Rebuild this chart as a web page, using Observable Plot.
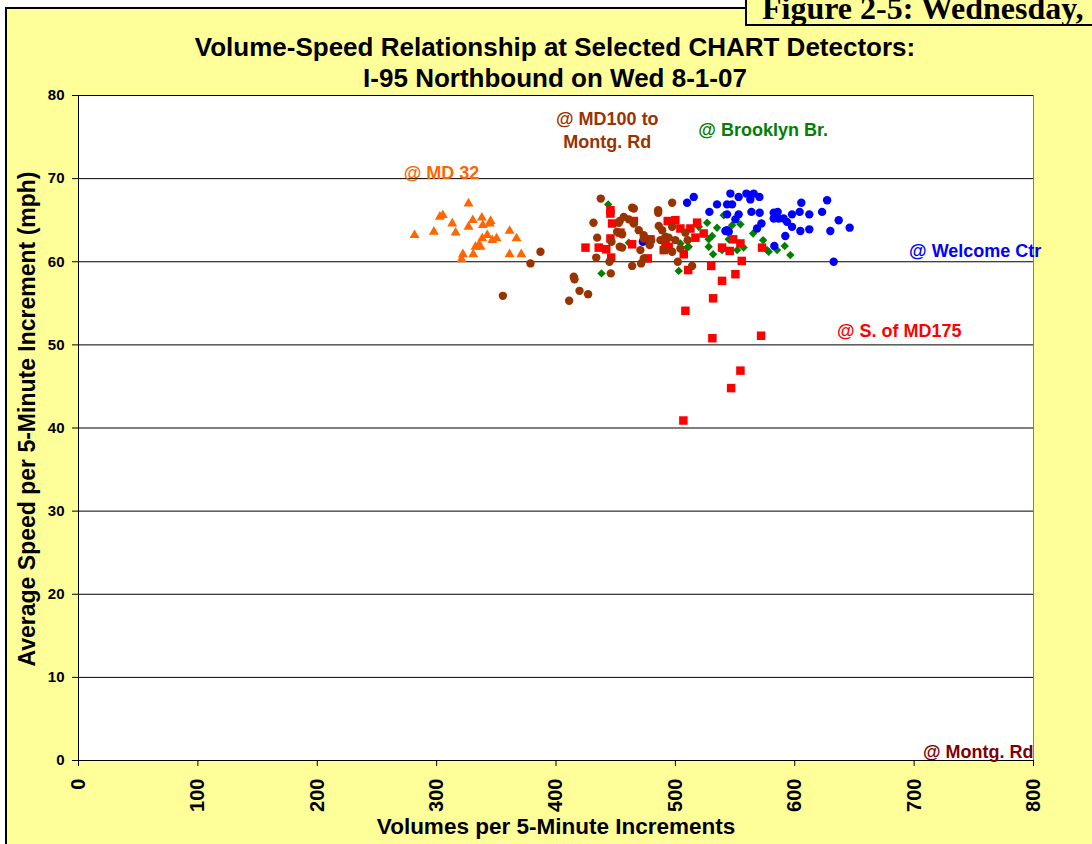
<!DOCTYPE html>
<html>
<head>
<meta charset="utf-8">
<script src="https://cdn.jsdelivr.net/npm/d3@7"></script>
<script src="https://cdn.jsdelivr.net/npm/@observablehq/plot@0.6"></script>
<style>
  body { margin: 0; }
  #page { position: relative; width: 1092px; height: 844px; overflow: hidden; background: #fff; font-family: "Liberation Sans", Arial, sans-serif; }
  #panel { position: absolute; left: 5px; top: 7px; width: 1200px; height: 1000px; background: #FFFF99; border: 2px solid #000; }
  #figbox { position: absolute; left: 745px; top: -10px; width: 500px; height: 32px; background: #FFFF99; border: 2px solid #000; }
  #figtext { position: absolute; left: 762px; top: -8px; white-space: nowrap; font-family: "Liberation Serif", "Times New Roman", serif; font-weight: bold; font-size: 32px; line-height: 32px; }
  #title { position: absolute; left: 0; top: 32px; width: 1110px; text-align: center; font-weight: bold; font-size: 26px; line-height: 31px; }
  #chart { position: absolute; left: 0; top: 0; }
</style>
</head>
<body>
<div id="page">
  <div id="panel"></div>
  <div id="figbox"></div>
  <div id="figtext">Figure 2-5: Wednesday,</div>
  <div id="chart"></div>
  <div id="title">Volume-Speed Relationship at Selected CHART Detectors:<br>I-95 Northbound on Wed 8-1-07</div>
</div>
<script>
// ---- Data (volume per 5 min, average speed mph) ----
const xTicks = [0, 100, 200, 300, 400, 500, 600, 700, 800];
const yTicks = [0, 10, 20, 30, 40, 50, 60, 70, 80];

// @ MD 32 (orange triangles)
const md32Vol = [281.5, 297.7, 302.7, 305.2, 313.1, 315.9, 326.7, 326.7, 330.3, 337.9, 338.7, 345.2, 344.6, 342.4, 338.2, 335.4, 332.6, 346.6, 350.2, 361.1, 366.9, 322.0, 320.9, 330.7, 361.1, 370.9, 336.8];
const md32Spd = [63.2, 63.6, 65.4, 65.6, 64.6, 63.5, 67.0, 64.2, 65.0, 65.3, 64.4, 64.9, 64.6, 63.2, 62.8, 62.0, 61.8, 62.6, 62.8, 63.7, 62.8, 60.9, 60.3, 60.9, 60.9, 60.9, 61.8];

// @ MD100 to Montg. Rd (brown circles)
const md100Vol = [387.0, 378.6, 355.5, 414.9, 415.5, 419.7, 426.9, 411.0, 437.5, 431.4, 434.5, 433.7, 445.9, 444.8, 446.5, 451.2, 453.4, 453.4, 463.8, 465.2, 456.8, 461.0, 452.6, 465.2, 455.4, 455.4, 463.8, 471.3, 473.5, 470.7, 469.3, 473.5, 473.5, 479.7, 478.5, 485.6, 485.6, 486.1, 488.9, 487.5, 491.7, 494.4, 490.3, 497.3, 497.3, 500.0, 504.2, 497.3, 502.0, 510.3, 514.0, 508.4];
const md100Spd = [61.2, 59.8, 55.9, 58.2, 57.9, 56.5, 56.1, 55.3, 67.6, 64.7, 62.9, 60.5, 58.6, 60.0, 62.4, 63.6, 64.9, 61.8, 66.5, 66.4, 65.4, 65.1, 64.7, 64.6, 63.3, 61.7, 59.5, 59.8, 60.4, 61.4, 63.8, 63.2, 62.8, 62.6, 62.0, 66.2, 65.9, 64.3, 63.8, 62.6, 63.0, 62.9, 61.4, 67.1, 64.2, 62.6, 61.6, 61.2, 60.0, 62.6, 59.5, 63.5];

// @ Brooklyn Br. (green diamonds)
const brooklynVol = [443.7, 438.1, 461.0, 502.8, 509.8, 519.6, 526.6, 534.9, 530.8, 527.9, 527.9, 531.6, 539.1, 540.5, 547.5, 554.5, 544.7, 551.7, 557.2, 565.1, 573.5, 576.8, 578.2, 585.2, 591.6, 596.3, 504.2, 511.2];
const brooklynSpd = [66.9, 58.6, 62.3, 58.9, 61.7, 64.2, 64.7, 64.1, 63.1, 62.7, 61.8, 60.9, 61.4, 65.6, 64.4, 64.5, 62.7, 61.4, 61.7, 63.4, 62.6, 61.4, 61.2, 61.4, 61.9, 60.8, 62.2, 61.8];

// @ Welcome Ctr (blue circles)
const welcomeVol = [472.7, 509.8, 515.4, 528.5, 534.9, 543.3, 547.5, 546.1, 553.0, 559.5, 565.6, 562.8, 570.4, 543.3, 553.0, 550.3, 563.7, 570.6, 572.1, 568.4, 543.3, 541.9, 544.7, 582.4, 585.7, 582.4, 586.5, 590.7, 593.5, 597.7, 592.1, 582.9, 597.7, 604.1, 605.5, 612.2, 604.7, 612.2, 622.9, 627.1, 629.8, 636.8, 646.0, 632.6];
const welcomeSpd = [62.4, 67.1, 67.8, 66.0, 66.9, 66.9, 66.9, 68.2, 67.8, 68.2, 68.2, 67.5, 67.8, 65.7, 65.7, 65.1, 66.0, 65.9, 64.6, 64.0, 63.8, 63.7, 63.6, 65.9, 66.0, 65.2, 65.2, 65.2, 64.8, 64.2, 63.1, 61.9, 65.7, 66.0, 67.1, 65.7, 63.7, 63.9, 66.0, 67.4, 63.7, 65.0, 64.1, 60.0];

// @ S. of MD175 (red squares)
const md175Vol = [445.6, 445.6, 447.0, 424.7, 435.8, 442.1, 445.6, 446.2, 454.0, 463.8, 465.2, 476.9, 479.1, 490.3, 493.6, 500.0, 494.4, 504.2, 507.0, 510.7, 512.6, 518.2, 516.8, 523.7, 530.0, 539.1, 531.6, 550.3, 555.6, 548.4, 554.5, 539.1, 545.5, 572.6, 508.4, 531.0, 571.8, 554.5, 546.7, 506.7, 491.7];
const md175Spd = [66.2, 65.8, 64.6, 61.7, 61.7, 61.5, 62.8, 60.5, 63.5, 62.1, 64.9, 60.4, 62.7, 61.4, 64.9, 65.0, 61.8, 64.0, 60.9, 59.0, 64.0, 64.7, 62.9, 63.4, 59.5, 57.7, 55.6, 58.5, 60.1, 62.7, 62.2, 61.7, 61.3, 61.7, 54.1, 50.8, 51.1, 46.9, 44.8, 40.9, 62.1];

// series labels (text, anchor point in data units, colour)
const labels = [
  {text: "@ MD 32", x: 304.1, y: 70.9, color: "#FF6600"},
  {text: "@ MD100 to\nMontg. Rd", x: 443, y: 76.0, color: "#993300"},
  {text: "@ Brooklyn Br.", x: 573.5, y: 76.0, color: "#008000"},
  {text: "@ Welcome Ctr", x: 751.2, y: 61.5, color: "#0000FF"},
  {text: "@ S. of MD175", x: 687.6, y: 51.8, color: "#FF0000"}
];
const montgLabel = [{text: "@ Montg. Rd", x: 800, y: 1.0, color: "#800000"}];

const chart = Plot.plot({
  width: 1092,
  height: 844,
  marginLeft: 78,
  marginRight: 59,
  marginTop: 95,
  marginBottom: 84,
  x: {domain: [0, 800]},
  y: {domain: [0, 80]},
  style: {background: "transparent", fontFamily: "'Liberation Sans', Arial, sans-serif", color: "black", overflow: "visible"},
  marks: [
    Plot.frame({fill: "white", stroke: "none"}),
    Plot.gridY(yTicks, {stroke: "#000", strokeOpacity: 1}),
    Plot.ruleX([800], {stroke: "#808080"}),
    Plot.ruleX([0], {stroke: "#000"}),
    Plot.ruleY([0], {stroke: "#000"}),
    Plot.axisY(yTicks, {tickSize: 6, tickPadding: 8, fontSize: 15, fontWeight: "bold", label: null}),
    Plot.axisX(xTicks, {tickSize: 6, tickPadding: 12, tickRotate: -90, fontSize: 20, fontWeight: "bold", label: null}),
    Plot.dot(brooklynVol, {x: brooklynVol, y: brooklynSpd, symbol: "diamond2", r: 3.8, fill: "#008000", stroke: "none"}),
    Plot.dot(welcomeVol, {x: welcomeVol, y: welcomeSpd, symbol: "circle", r: 4.2, fill: "#0000FF", stroke: "none"}),
    Plot.dot(md175Vol, {x: md175Vol, y: md175Spd, symbol: "square", r: 4.8, fill: "#FF0000", stroke: "none"}),
    Plot.dot(md100Vol, {x: md100Vol, y: md100Spd, symbol: "circle", r: 4.2, fill: "#993300", stroke: "none"}),
    Plot.dot(md32Vol, {x: md32Vol, y: md32Spd, symbol: "triangle", r: 3.7, fill: "#FF6600", stroke: "none"}),
    ...labels.map(l => Plot.text([l], {x: "x", y: "y", text: "text", fill: l.color, fontSize: 18, fontWeight: "bold", lineHeight: 1.28})),
    Plot.text(montgLabel, {x: "x", y: "y", text: "text", fill: montgLabel[0].color, fontSize: 18, fontWeight: "bold", textAnchor: "end"}),
    Plot.text(["Average Speed per 5-Minute Increment (mph)"], {text: d => d, frameAnchor: "left", textAnchor: "middle", dx: -51, dy: -9, rotate: -90, fontSize: 23, fontWeight: "bold", fill: "#000"}),
    Plot.text(["Volumes per 5-Minute Increments"], {text: d => d, frameAnchor: "bottom", dy: 73, fontSize: 22.5, fontWeight: "bold", fill: "#000"})
  ]
});
document.getElementById("chart").appendChild(chart);
</script>
</body>
</html>
